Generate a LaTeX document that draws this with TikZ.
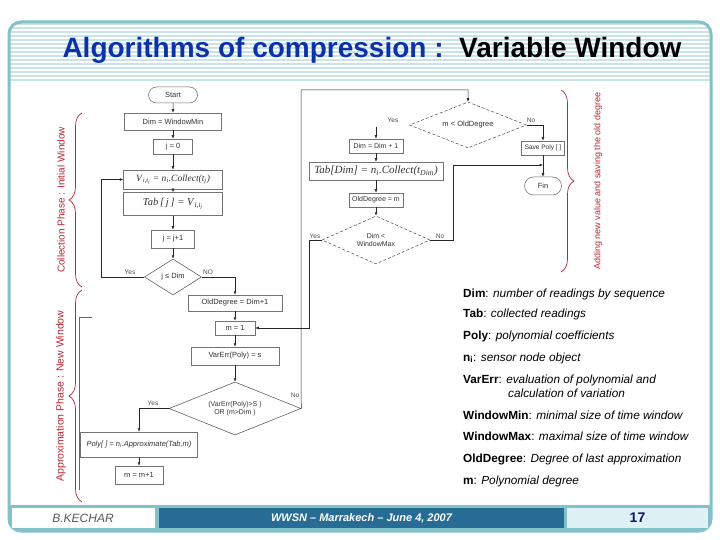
\documentclass[tikz,border=0pt]{standalone}
\usepackage{fontspec}
\setmainfont{Liberation Sans}
\newfontfamily\tms{Liberation Serif}
\usetikzlibrary{shapes.geometric,shapes.misc,arrows.meta,decorations.pathreplacing}
\definecolor{frameteal}{RGB}{128,194,200}
\definecolor{stripeteal}{RGB}{200,228,232}
\definecolor{ttlblue}{RGB}{12,50,170}
\definecolor{phred}{RGB}{185,40,50}
\definecolor{footblue}{RGB}{38,108,148}
\definecolor{footlight}{RGB}{222,242,245}
\definecolor{navytxt}{RGB}{20,20,100}
\begin{document}
\begin{tikzpicture}[x=1pt,y=-1pt,
  fc/.style={font=\fontsize{7.5}{8.5}\selectfont, text=black!80},
  pbox/.style={draw=black!55, line width=0.5pt, fill=white, inner sep=0.5pt, fc},
  dia/.style={diamond, draw=black!70, line width=0.5pt, inner sep=0pt, shape aspect=3, align=center, fc},
  term/.style={rounded rectangle, draw=black!60, line width=0.5pt, inner sep=0pt, fc},
  arr/.style={-{Latex[length=3.5pt,width=2.8pt]}, line width=0.5pt, draw=black!85},
  lbl/.style={font=\fontsize{6.5}{7}\selectfont, text=black!70, inner sep=0pt},
  legd/.style={anchor=base west, inner sep=0pt, font=\fontsize{11.8}{13}\selectfont},
  brc/.style={decorate, decoration={brace, amplitude=13pt}, draw=phred, line width=0.7pt},
  side/.style={rotate=90, text=phred, font=\fontsize{10}{12}\selectfont, inner sep=0pt},
]
\useasboundingbox (0,0) rectangle (720,540);
\fill[white] (0,0) rectangle (720,540);
% title stripes
\begin{scope}
\clip[rounded corners=12pt] (9,22) rectangle (711,531);
\foreach \k in {0,...,14} \fill[stripeteal] (9,23+4*\k) rectangle (711,25.5+4*\k);
\fill[frameteal] (9,505) rectangle (711,531);
\end{scope}
\draw[frameteal, line width=3pt, rounded corners=12pt] (9,22) rectangle (711,531);
\node (title) at (372,50) {\fontsize{28}{31}\selectfont\bfseries\textcolor{ttlblue}{Algorithms of compression :}\ \ Variable Window};

% footer
\node[fill=white, minimum width=143, minimum height=20, inner sep=0pt, text=black!65, font=\fontsize{12}{14}\selectfont\itshape] (fl) at (83,518) {B.KECHAR};
\node[fill=footblue, minimum width=405, minimum height=20, inner sep=0pt, text=white, font=\fontsize{11}{13}\selectfont\bfseries\itshape] (fm) at (361.5,518) {WWSN -- Marrakech -- June 4, 2007};
\node[fill=footlight, minimum width=141, minimum height=20, inner sep=0pt, text=navytxt, font=\fontsize{14}{16}\selectfont\bfseries] (fr) at (637.5,518) {17};

% left column
\node[term, minimum width=49, minimum height=16] (start) at (173,95) {Start};
\node[pbox, minimum width=97, minimum height=17] (dimmin) at (173,121.5) {Dim = WindowMin};
\node[pbox, minimum width=39, minimum height=15] (j0) at (173,146.5) {j = 0};
\node[pbox, minimum width=99, minimum height=19, font=\tms\itshape\fontsize{9.5}{10}\selectfont] (vbox) at (173,179.5) {V\textsubscript{\,i,t\textsubscript{j}} = n\textsubscript{i}.Collect(t\textsubscript{j})};
\node[pbox, minimum width=99, minimum height=23, font=\tms\itshape\fontsize{10.5}{11}\selectfont] (tabj) at (173,204) {Tab\,[\,j\,] = V\textsubscript{\,i,t\textsubscript{j}}};
\node[pbox, minimum width=43, minimum height=18] (jinc) at (173,239) {j = j+1};
\node[dia, minimum width=57, minimum height=36] (djdim) at (173,277) {j ≤ Dim};
\node[pbox, minimum width=94, minimum height=16] (old1) at (235,303) {OldDegree = Dim+1};
\node[pbox, minimum width=40, minimum height=14] (m1) at (235,328) {m = 1};
\node[pbox, minimum width=88, minimum height=18] (varerr) at (235,356) {VarErr(Poly) = s};
\node[dia, minimum width=132, minimum height=53, font=\fontsize{7}{8.5}\selectfont] (dvar) at (235,408.5) {(VarErr(Poly)>S )\\OR (m>Dim )};
\node[pbox, minimum width=117, minimum height=25, font=\fontsize{7.5}{8.5}\selectfont\itshape] (approx) at (139,444.5) {Poly[ ] = n\textsubscript{i}.Approximate(Tab,m)};
\node[pbox, minimum width=48, minimum height=18] (minc) at (139,475) {m = m+1};

% right column
\node[dia, densely dashed, minimum width=117, minimum height=46] (dmold) at (468,125) {m < OldDegree};
\node[pbox, minimum width=54, minimum height=14, font=\fontsize{7}{8}\selectfont] (dimp1) at (376,146) {Dim = Dim + 1};
\node[pbox, minimum width=134, minimum height=18, font=\tms\itshape\fontsize{11}{12}\selectfont] (tabdim) at (376,171) {Tab[Dim] = n\textsubscript{i}.Collect(t\textsubscript{Dim})};
\node[pbox, minimum width=54, minimum height=14, font=\fontsize{7}{8}\selectfont] (oldm) at (376,200) {OldDegree = m};
\node[dia, densely dashed, minimum width=108, minimum height=48, font=\fontsize{7}{8.5}\selectfont] (dwin) at (376,240) {Dim <\\WindowMax};
\node[pbox, minimum width=43, minimum height=14, font=\fontsize{6.5}{7}\selectfont] (save) at (543,148) {Save Poly [ ]};
\node[term, minimum width=37, minimum height=18] (fin) at (543,186) {Fin};

% labels
\node[lbl] (lyes1) at (130,272) {Yes};
\node[lbl] (lno1) at (208,272) {NO};
\node[lbl] (lyes2) at (153,403) {Yes};
\node[lbl] (lno2) at (295,395) {No};
\node[lbl] (lyes3) at (393,120) {Yes};
\node[lbl] (lno3) at (531,120) {No};
\node[lbl] (lyes4) at (315,236) {Yes};
\node[lbl] (lno4) at (440,236) {No};

% connectors
\draw[arr] (start) -- (dimmin);
\draw[arr] (dimmin) -- (j0);
\draw[arr] (j0) -- (vbox);
\draw[arr] (vbox) -- (tabj);
\draw[arr] (tabj) -- (jinc);
\draw[arr] (jinc) -- (djdim);
\draw[arr] (djdim.west) -- ++(-43,0) |- (vbox.west);
\draw[arr] (djdim.east) -| (old1.north);
\draw[arr] (old1) -- (m1);
\draw[arr] (m1) -- (varerr);
\draw[arr] (varerr) -- (dvar);
\draw[arr] (dvar.west) -| (approx.north);
\draw[arr] (approx) -- (minc);
\coordinate (ctop) at (301,90);
\draw[arr] (dvar.east) -- (ctop) -| (dmold.north);
\draw[arr] (dmold.east) -| (save.north);
\draw[arr] (save) -- (fin);
\coordinate (cyes) at (376,127);
\draw[arr] (cyes) -- (dimp1);
\draw[arr] (dimp1) -- (tabdim);
\draw[arr] (tabdim) -- (oldm);
\draw[arr] (oldm) -- (dwin);
\draw[arr] (dwin.west) -- ++(-13,0) |- (m1.east);
\coordinate (cfin) at (543,165);
\draw[arr] (dwin.east) -- ++(23,0) |- (cfin);
\draw[black!60, line width=0.5pt] (92,317) -- (79,317) -- (79,490);

% braces and side texts
\draw[brc] (82,287) -- (82,113);
\draw[brc] (82,502) -- (82,290);
\draw[brc] (561,90) -- (561,272);
\node[side] (tcoll) at (61,200) {Collection Phase : Initial Window};
\node[side, font=\fontsize{10.5}{12}\selectfont] (tappr) at (61,396) {Approximation Phase : New Window};
\node[side, font=\fontsize{9}{11}\selectfont] (tadd) at (598,181) {Adding new value and saving the old degree};

% legend
\node[legd] (lg1) at (463,297) {\textbf{Dim}: \textit{number of readings by sequence}};
\node[legd] (lg2) at (463,317) {\textbf{Tab}: \textit{collected readings}};
\node[legd] (lg3) at (463,339) {\textbf{Poly}: \textit{polynomial coefficients}};
\node[legd] (lg4) at (463,361) {\textbf{n\textsubscript{i}}: \textit{sensor node object}};
\node[legd] (lg5) at (463,383) {\textbf{VarErr}: \textit{evaluation of polynomial and}};
\node[legd] (lg5b) at (508,397) {\textit{calculation of variation}};
\node[legd] (lg6) at (463,419) {\textbf{WindowMin}: \textit{minimal size of time window}};
\node[legd] (lg7) at (463,440) {\textbf{WindowMax}: \textit{maximal size of time window}};
\node[legd] (lg8) at (463,462) {\textbf{OldDegree}: \textit{Degree of last approximation}};
\node[legd] (lg9) at (463,484) {\textbf{m}: \textit{Polynomial degree}};
\end{tikzpicture}
\end{document}
